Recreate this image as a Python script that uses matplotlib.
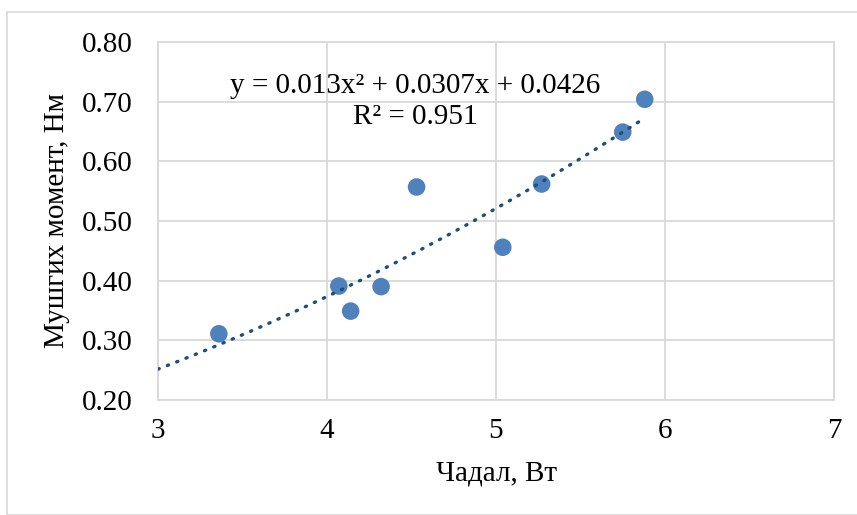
import matplotlib
matplotlib.use("Agg")
import matplotlib.pyplot as plt
import numpy as np
from matplotlib.patches import Rectangle

power_w = [3.36, 4.07, 4.14, 4.32, 4.53, 5.04, 5.27, 5.75, 5.88]
torque_nm = [0.311, 0.391, 0.349, 0.390, 0.557, 0.456, 0.562, 0.649, 0.704]
trend_coeffs = [0.013, 0.0307, 0.0426]
equation_text = "y = 0.013x² + 0.0307x + 0.0426"
r2_text = "R² = 0.951"
x_ticks = [3, 4, 5, 6, 7]
y_ticks = [0.20, 0.30, 0.40, 0.50, 0.60, 0.70, 0.80]
x_label = "Чадал, Вт"
y_label = "Мушгих момент, Нм"

plt.rcParams['font.family'] = ['Liberation Serif', 'DejaVu Serif']

fig = plt.figure(figsize=(8.57, 5.15), dpi=100)
fig.patches.append(Rectangle((7/857, 0), 1, 1 - 12/515, transform=fig.transFigure,
                             fill=False, edgecolor='#D9D9D9', linewidth=1.2))
ax = fig.add_axes([158/857, 1 - 400/515, (834 - 158)/857, (400 - 42)/515])

grid_c = '#D9D9D9'
fs = 21
ax.set_xlim(3, 7)
ax.set_ylim(0.2, 0.8)
ax.set_xticks(x_ticks)
ax.set_yticks(y_ticks)
ax.set_xticklabels([str(t) for t in x_ticks])
ax.set_yticklabels([f"{t:.2f}" for t in y_ticks])
ax.grid(True, color=grid_c, linewidth=1.3)
ax.set_axisbelow(True)
for s in ax.spines.values():
    s.set_color(grid_c)
    s.set_linewidth(1.3)
ax.tick_params(axis='y', length=0, labelsize=fs, pad=18)
ax.tick_params(axis='x', length=0, labelsize=fs, pad=13)

xs = np.linspace(3, max(power_w), 200)
ys = np.polyval(trend_coeffs, xs)
ax.plot(xs, ys, linestyle=(0, (0.4, 2.6)), color='#1F4E79', linewidth=2.4,
        dash_capstyle='round', zorder=3)
ax.scatter(power_w, torque_nm, s=160, color='#4F81BD', edgecolors='none', zorder=2)

ax.text(4.52, 0.726, equation_text, ha='center', va='center', fontsize=fs, zorder=4)
ax.text(4.52, 0.675, r2_text, ha='center', va='center', fontsize=fs, zorder=4)

ax.set_xlabel(x_label, fontsize=fs, labelpad=12)
ax.set_ylabel(y_label, fontsize=fs, labelpad=9)

fig.savefig("out.png", dpi=100)
